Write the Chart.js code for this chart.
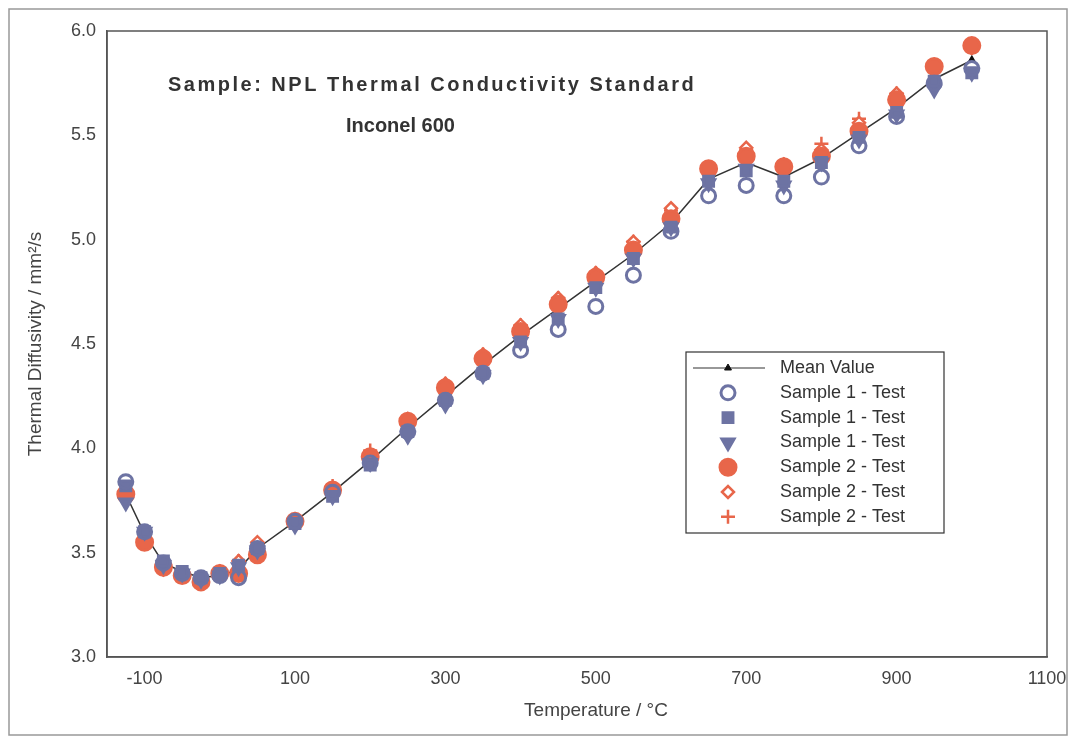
<![CDATA[<!DOCTYPE html><html><head><meta charset="utf-8">
<script src="https://cdn.jsdelivr.net/npm/chart.js@4"></script>
<style>body{margin:0;background:#fff}#w{width:1080px;height:744px}</style></head><body><div id="w"><canvas id="c"></canvas></div>
<script>
const temps=[-125,-100,-75,-50,-25,0,25,50,100,150,200,250,300,350,400,450,500,550,600,650,700,750,800,850,900,950,1000];
const meanV=[3.78,3.59,3.45,3.41,3.38,3.39,3.42,3.52,3.65,3.79,3.94,4.10,4.25,4.40,4.54,4.67,4.80,4.93,5.08,5.29,5.37,5.30,5.39,5.51,5.63,5.77,5.86];
const s1a=[3.84,3.60,3.45,3.40,3.38,3.39,3.38,3.52,3.65,3.79,3.93,4.08,4.23,4.36,4.47,4.57,4.68,4.83,5.04,5.21,5.26,5.21,5.30,5.45,5.59,5.75,5.82];
const s1b=[3.82,3.60,3.46,3.41,3.38,3.40,3.44,3.52,3.64,3.77,3.92,4.08,4.23,4.36,4.51,4.62,4.77,4.91,5.06,5.28,5.33,5.28,5.37,5.49,5.61,5.76,5.80];
const s1c=[3.74,3.60,3.44,3.40,3.37,3.39,3.43,3.51,3.63,3.77,3.93,4.06,4.21,4.35,4.51,4.62,4.77,4.91,5.06,5.27,5.34,5.26,5.37,5.48,5.60,5.72,5.80];
const s2a=[3.78,3.55,3.43,3.39,3.36,3.40,3.40,3.49,3.65,3.80,3.96,4.13,4.29,4.43,4.56,4.69,4.82,4.95,5.10,5.34,5.40,5.35,5.40,5.52,5.67,5.83,5.93];
const s2b=[3.79,3.56,3.42,3.40,3.37,3.41,3.46,3.55,3.66,3.81,3.97,4.14,4.31,4.45,4.59,4.72,4.84,4.99,5.15,5.34,5.44,5.36,5.43,5.56,5.70,5.83,5.92];
const s2c=[3.76,3.56,3.42,3.40,3.37,3.41,3.46,3.54,3.66,3.82,3.99,4.14,4.31,4.45,4.59,4.72,4.84,4.99,5.14,5.34,5.43,5.36,5.46,5.58,5.70,5.83,5.92];
const xTicks=[-100,100,300,500,700,900,1100];
const yTicks=[3.0,3.5,4.0,4.5,5.0,5.5,6.0];
const blue='#6d73a3',red='#e8664a';
const pts=a=>a.map((v,i)=>({x:temps[i],y:v}));
const mk=(label,d,style,col,fill,r)=>({label,data:pts(d),showLine:false,pointStyle:style,pointRadius:r,pointBorderColor:col,pointBackgroundColor:fill,pointBorderWidth:3,order:1});
const datasets=[
{label:'Mean Value',data:pts(meanV),showLine:true,borderColor:'#333',borderWidth:1.5,pointStyle:'triangle',pointRadius:4,pointBackgroundColor:'#111',pointBorderColor:'#111',order:10},
mk('Sample 1 - Test',s1a,'circle',blue,'rgba(0,0,0,0)',7),
mk('Sample 1 - Test',s1b,'rect',blue,blue,7),
{...mk('Sample 1 - Test',s1c,'triangle',blue,blue,7),rotation:180},
mk('Sample 2 - Test',s2a,'circle',red,red,8),
{...mk('Sample 2 - Test',s2b,'rectRot',red,'#fff',6),pointBorderWidth:2.5},
{...mk('Sample 2 - Test',s2c,'cross',red,red,7),pointBorderWidth:2.5},
];
const deco={id:'deco',afterDraw(ch){const c=ch.ctx,a=ch.chartArea;c.save();
c.strokeStyle='#999';c.lineWidth=1.5;c.strokeRect(9,9,1058,726);
c.strokeStyle='#555';c.lineWidth=1.5;c.strokeRect(a.left,a.top,a.right-a.left,a.bottom-a.top);
c.fillStyle='#333';c.font='bold 20px "Liberation Sans",Arial';c.textAlign='left';c.textBaseline='middle';
c.letterSpacing='2.5px';c.fillText('Sample: NPL Thermal Conductivity Standard',168,85);c.letterSpacing='0px';c.fillText('Inconel 600',346,126);
c.font='19px "Liberation Sans",Arial';c.textAlign='center';c.fillStyle='#444';
c.fillText('Temperature / °C',596,711);
c.translate(36,344);c.rotate(-Math.PI/2);c.fillText('Thermal Diffusivity / mm²/s',0,0);c.restore();
c.save();c.fillStyle='#fff';c.strokeStyle='#333';c.lineWidth=1.2;c.fillRect(686,352,258,181);c.strokeRect(686,352,258,181);
c.font='18px "Liberation Sans",Arial';c.textBaseline='middle';c.textAlign='left';
ch.data.datasets.forEach((d,i)=>{const yy=368+i*24.8,xx=728;
if(i===0){c.strokeStyle='#333';c.lineWidth=1.2;c.beginPath();c.moveTo(693,yy);c.lineTo(765,yy);c.stroke();}
c.fillStyle=d.pointBackgroundColor;c.strokeStyle=d.pointBorderColor;c.lineWidth=d.pointBorderWidth||1;
c.beginPath();Chart.helpers.drawPoint(c,{pointStyle:d.pointStyle,radius:d.pointRadius,rotation:d.rotation||0,borderWidth:d.pointBorderWidth||1},xx,yy);
c.fillStyle='#333';c.fillText(d.label,780,yy);});
c.restore();}};
new Chart(document.getElementById('c'),{type:'scatter',data:{datasets},plugins:[deco],
options:{responsive:true,maintainAspectRatio:false,animation:false,layout:{padding:{top:31,right:33,left:0,bottom:0}},
plugins:{legend:{display:false},tooltip:{enabled:false}},
scales:{
x:{type:'linear',min:-150,max:1100,afterBuildTicks:s=>{s.ticks=xTicks.map(v=>({value:v}))},afterFit:s=>{s.height=87},
grid:{display:false,drawTicks:true,tickLength:7,tickColor:'#555'},border:{color:'#555',width:1.5},
ticks:{color:'#444',font:{size:18,family:'"Liberation Sans",Arial'},padding:4,maxRotation:0,callback:v=>String(v)}},
y:{min:3,max:6,afterBuildTicks:s=>{s.ticks=yTicks.map(v=>({value:v}))},afterFit:s=>{s.width=107},
grid:{display:false,tickLength:7,tickColor:'#555'},border:{color:'#555',width:1.5},
ticks:{color:'#444',font:{size:18,family:'"Liberation Sans",Arial'},padding:4,callback:v=>v.toFixed(1)}}}}});
</script></body></html>]]>
